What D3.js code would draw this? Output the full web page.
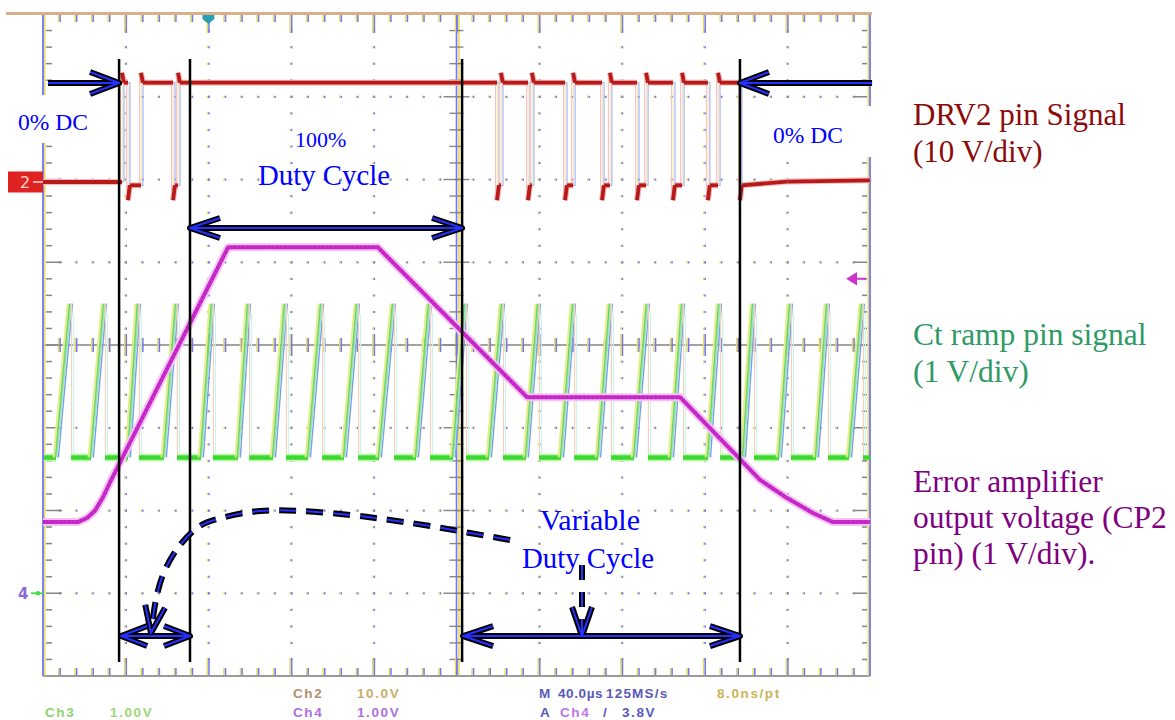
<!DOCTYPE html>
<html><head><meta charset="utf-8">
<script src="https://cdn.jsdelivr.net/npm/d3@7"></script>
<style>body{margin:0;background:#fff;overflow:hidden}svg{display:block}</style>
</head><body>
<script>
// ================= DATA =================
// horizontal axis: time in µs (40 µs/div, 10 div); vertical axis: divisions (8 div)
const timeDomain = [0, 400];
const divDomain = [-4, 4];
const majorTimes = [0, 40, 80, 120, 160, 200, 240, 280, 320, 360, 400];
const majorDivs = [-4, -3, -2, -1, 0, 1, 2, 3, 4];
const triggerTime = 80;

// Ch2 – DRV2 pin (10 V/div), ground marker at +1.97 div
const ch2Offset = 1.97, ch2VoltsPerDiv = 10;
const ch2High = 12, ch2Low = 0, ch2PulseLow = -0.4, ch2Overshoot = 13.2, ch2Undershoot = -2.2;
const ch2Rise = [38.2, 47.4, 65.3, 221.5, 236.5, 256.4, 274.2, 291.7, 309.1, 326.5];
const ch2Fall = [41.1, 62.9, 219.6, 234.6, 252.5, 270.4, 287.3, 304.7, 321.6, 337.1];
const ch2TailTime = [360, 400];
const ch2TailVolt = [0.05, 0.2];

// Ch3 – Ct ramp (1 V/div), ground at -3 div
const ch3Offset = -3, ch3VoltsPerDiv = 1;
const ch3Valley = 1.64, ch3Peak = 3.50;
const ch3RampStart = [6.3, 23.2, 41.1, 58.5, 76.4, 94.3, 111.3, 128.2, 145.6, 162.5, 180.4, 198.3, 215.7, 233.6, 250.6, 268.5, 285.9, 303.8, 321.7, 338.6, 356.0, 373.9, 389.9];
const ch3RampPeak  = [13.1, 29.5, 45.9, 64.3, 81.7, 99.2, 117.0, 134.5, 151.9, 169.3, 186.7, 204.1, 222.0, 239.4, 256.4, 274.2, 292.1, 309.1, 327.0, 343.4, 361.3, 379.2, 396.1];

// Ch4 – error amplifier output (1 V/div), ground at -3 div, trigger 3.8 V
const ch4Offset = -3, ch4VoltsPerDiv = 1, ch4Trigger = 3.8;
const ch4Time = [0, 16.9, 21.3, 25.2, 29.0, 32.4, 89.5, 162.0, 234.1, 308.1, 346.8, 359.9, 372.4, 382.1, 400];
const ch4Volt = [0.86, 0.86, 0.91, 1.00, 1.16, 1.34, 4.18, 4.18, 2.37, 2.37, 1.37, 1.15, 0.97, 0.86, 0.86];

// annotations (time µs, div)
const markerTimes = [36.8, 71.1, 202.7, 337.1];
const markerTop = 3.456, markerBottom = -3.83;
const arrowTopLevel = 3.166, arrowMidLevel = 1.414, arrowLowLevel = -3.517;
const curveTime = [225.9, 206.5, 187.2, 167.8, 148.5, 124.3, 105.0, 88.0, 75.9, 66.3, 59.0, 55.1, 52.2];
const curveDiv  = [-2.356, -2.272, -2.187, -2.115, -2.054, -2.006, -2.006, -2.079, -2.187, -2.417, -2.719, -3.021, -3.480];
const pointerTime = 260.7, pointerFrom = -2.659;

// text
const legendRed = ["DRV2 pin Signal", "(10 V/div)"];
const legendGreen = ["Ct ramp pin signal", "(1 V/div)"];
const legendPurple = ["Error amplifier", "output voltage (CP2", "pin) (1 V/div)."];

// ================= DRAW =================
const svg = d3.select("body").append("svg").attr("width", 1175).attr("height", 720);
svg.append("rect").attr("width", 1175).attr("height", 720).attr("fill", "#fff");

const x = d3.scaleLinear().domain(timeDomain).range([43, 870]);
const y = d3.scaleLinear().domain(divDomain).range([676, 14]);
const y2 = v => y(ch2Offset + v / ch2VoltsPerDiv);
const y3 = v => y(ch3Offset + v / ch3VoltsPerDiv);
const y4 = v => y(ch4Offset + v / ch4VoltsPerDiv);

const minorTimes = d3.range(0, 400.01, 8);
const minorDivs = d3.range(-4, 4.001, 0.2);
const BLUE = "#7474f2", YEL = "#e6dc5a", GRAY = "#858585";

const grid = svg.append("g");
// dotted graticule
majorTimes.filter(t => t !== 0 && t !== 200 && t !== 400).forEach(t => {
  minorDivs.slice(1, -1).forEach(d => {
    grid.append("rect").attr("x", x(t) - 1.6).attr("y", y(d) - 1).attr("width", 1.4).attr("height", 2.2).attr("fill", YEL);
    grid.append("rect").attr("x", x(t) - 0.2).attr("y", y(d) - 1).attr("width", 1.5).attr("height", 2.2).attr("fill", BLUE);
  });
});
majorDivs.filter(d => d !== -4 && d !== 0 && d !== 4).forEach(d => {
  minorTimes.slice(1, -1).forEach(t => {
    grid.append("rect").attr("x", x(t) - 1.6).attr("y", y(d) - 1).attr("width", 1.4).attr("height", 2.2).attr("fill", YEL);
    grid.append("rect").attr("x", x(t) - 0.2).attr("y", y(d) - 1).attr("width", 1.5).attr("height", 2.2).attr("fill", BLUE);
  });
});
// center cross
grid.append("line").attr("x1", x(0)).attr("x2", x(400)).attr("y1", y(0)).attr("y2", y(0)).attr("stroke", GRAY).attr("stroke-width", 1.6);
minorTimes.slice(1, -1).forEach(t => {
  const major = majorTimes.includes(t);
  const h = major ? 11 : 7;
  grid.append("line").attr("x1", x(t) - 1).attr("x2", x(t) - 1).attr("y1", y(0) - h).attr("y2", y(0) + h).attr("stroke", YEL).attr("stroke-width", 1.5);
  grid.append("line").attr("x1", x(t) + 0.6).attr("x2", x(t) + 0.6).attr("y1", y(0) - h).attr("y2", y(0) + h).attr("stroke", BLUE).attr("stroke-width", 1.5);
});
grid.append("line").attr("x1", x(200)).attr("x2", x(200)).attr("y1", y(4)).attr("y2", y(-4)).attr("stroke", BLUE).attr("stroke-width", 1.6);
grid.append("line").attr("x1", x(200) + 2.4).attr("x2", x(200) + 2.4).attr("y1", y(4)).attr("y2", y(-4)).attr("stroke", YEL).attr("stroke-width", 1.6);
minorDivs.slice(1, -1).forEach(d => {
  const major = majorDivs.includes(Math.round(d * 10) / 10);
  const w = major ? 13 : 7;
  grid.append("line").attr("x1", x(200) - w).attr("x2", x(200) + w).attr("y1", y(d)).attr("y2", y(d)).attr("stroke", GRAY).attr("stroke-width", 1.4);
});
// borders
grid.append("line").attr("x1", 6).attr("x2", 872).attr("y1", 13.5).attr("y2", 13.5).attr("stroke", "#d8b08c").attr("stroke-width", 3);
grid.append("line").attr("x1", x(0)).attr("x2", x(400)).attr("y1", y(-4)).attr("y2", y(-4)).attr("stroke", "#9a9a9a").attr("stroke-width", 2);
[[x(0), BLUE, YEL, 1.8], [x(400), BLUE, YEL, -1.8]].forEach(([bx, c1, c2, off]) => {
  grid.append("line").attr("x1", bx).attr("x2", bx).attr("y1", 15).attr("y2", y(-4)).attr("stroke", c1).attr("stroke-width", 1.8);
  grid.append("line").attr("x1", bx + off).attr("x2", bx + off).attr("y1", 15).attr("y2", y(-4)).attr("stroke", c2).attr("stroke-width", 1.4);
});
minorTimes.slice(1, -1).forEach(t => {
  const major = majorTimes.includes(t);
  [[15, major ? 33 : 22], [y(-4) - (major ? 18 : 8), y(-4) - 1]].forEach(([a, b]) => {
    grid.append("line").attr("x1", x(t) - 1).attr("x2", x(t) - 1).attr("y1", a).attr("y2", b).attr("stroke", YEL).attr("stroke-width", 1.5);
    grid.append("line").attr("x1", x(t) + 0.6).attr("x2", x(t) + 0.6).attr("y1", a).attr("y2", b).attr("stroke", BLUE).attr("stroke-width", 1.5);
  });
});
minorDivs.slice(1, -1).forEach(d => {
  const major = majorDivs.includes(Math.round(d * 10) / 10);
  grid.append("line").attr("x1", x(0) + 3).attr("x2", x(0) + (major ? 19 : 9)).attr("y1", y(d)).attr("y2", y(d)).attr("stroke", GRAY).attr("stroke-width", 1.5);
  grid.append("line").attr("x1", x(400) - 3).attr("x2", x(400) - (major ? 16 : 8)).attr("y1", y(d)).attr("y2", y(d)).attr("stroke", GRAY).attr("stroke-width", 1.5);
});
// white text boxes that cover the graticule
svg.append("rect").attr("x", 0).attr("y", 95).attr("width", 111).attr("height", 48).attr("fill", "#fff");
svg.append("rect").attr("x", 748).attr("y", 106).attr("width", 128).attr("height", 51).attr("fill", "#fff");

// channel markers
const mk = svg.append("g");
mk.append("rect").attr("x", 8).attr("y", y2(0) - 10.5).attr("width", 35).attr("height", 21).attr("fill", "#df2222");
mk.append("text").attr("x", 20).attr("y", y2(0) + 6).text("2").attr("fill", "#ffd6c8").attr("font-family", "DejaVu Sans").attr("font-size", 16);
mk.append("line").attr("x1", 33).attr("x2", 43).attr("y1", y2(0)).attr("y2", y2(0)).attr("stroke", "#ffe0d0").attr("stroke-width", 1.5);
mk.append("text").attr("x", 18).attr("y", y4(0) + 6).text("4").attr("fill", "#8a6ad8").attr("font-family", "DejaVu Sans").attr("font-weight", "bold").attr("font-size", 15);
mk.append("line").attr("x1", 31).attr("x2", 43).attr("y1", y4(0)).attr("y2", y4(0)).attr("stroke", "#44dd44").attr("stroke-width", 1.8);
mk.append("circle").attr("cx", 38).attr("cy", y4(0)).attr("r", 2.2).attr("fill", "#44dd44");
mk.append("path").attr("d", `M${x(400) - 22},${y4(ch4Trigger)} l8,-5 v10 z M${x(400) - 16},${y4(ch4Trigger)} H${x(400) - 4}`)
  .attr("fill", "#cc33cc").attr("stroke", "#cc33cc").attr("stroke-width", 2);
mk.append("path").attr("d", `M${x(triggerTime) - 6},15 h12 v4 l-6,5 l-6,-5 z`).attr("fill", "#2aa0b4");

// ---- Ch3 green ramp ----
const g3 = svg.append("g");
const line = d3.line().x(p => x(p[0])).y(p => p[1]);
let prev = 0;
ch3RampStart.forEach((s, i) => {
  const pk = ch3RampPeak[i];
  g3.append("path").attr("d", line([[prev + 0.5, y3(ch3Valley)], [s, y3(ch3Valley)]])).attr("stroke", "#c4f6b6").attr("stroke-width", 8).attr("fill", "none");
  g3.append("path").attr("d", line([[prev + 0.5, y3(ch3Valley)], [s, y3(ch3Valley)]])).attr("stroke", "#3bd82e").attr("stroke-width", 4.5).attr("fill", "none");
  // ramp (persistence jitter shown as several sweeps)
  [[-2.4, "#e6ee88", 2], [2.4, "#7c9cf0", 1.4], [0.8, "#9fe6b8", 1.6], [-0.6, "#6fd46a", 1.6]].forEach(([dx, c, w]) => {
    g3.append("line").attr("x1", x(s) + dx).attr("y1", y3(ch3Valley)).attr("x2", x(pk) + dx).attr("y2", y3(ch3Peak)).attr("stroke", c).attr("stroke-width", w);
  });
  // discharge edge
  g3.append("line").attr("x1", x(pk) + 1.5).attr("x2", x(pk) + 1.5).attr("y1", y3(ch3Peak)).attr("y2", y3(ch3Valley)).attr("stroke", "#f7d2bb").attr("stroke-width", 1.2);
  g3.append("line").attr("x1", x(pk) + 3.5).attr("x2", x(pk) + 3.5).attr("y1", y3(ch3Peak) + 10).attr("y2", y3(ch3Valley)).attr("stroke", "#c8f4f2").attr("stroke-width", 1.1);
  prev = pk;
});
g3.append("path").attr("d", line([[prev + 0.5, y3(ch3Valley)], [400, y3(ch3Valley)]])).attr("stroke", "#3bd82e").attr("stroke-width", 4.5).attr("fill", "none");

// ---- Ch4 magenta ----
const ch4Pts = ch4Time.map((t, i) => [t, y4(ch4Volt[i])]);
svg.append("path").attr("d", line(ch4Pts)).attr("fill", "none").attr("stroke", "#f3c4f3").attr("stroke-width", 8).attr("stroke-linejoin", "round");
svg.append("path").attr("d", line(ch4Pts)).attr("fill", "none").attr("stroke", "#cc2acc").attr("stroke-width", 4).attr("stroke-linejoin", "round");
svg.append("path").attr("d", line(ch4Pts)).attr("fill", "none").attr("stroke", "#8e1a9e").attr("stroke-width", 4).attr("stroke-dasharray", "1.2,3").attr("opacity", 0.3);

// ---- Ch2 red ----
const events = ch2Rise.map(t => ({t, up: true})).concat(ch2Fall.map(t => ({t, up: false}))).sort((a, b) => a.t - b.t);
const red = [[0, ch2Low]];
events.forEach((e, i) => {
  const lowBefore = i === 0 ? ch2Low : ch2PulseLow;
  if (e.up) red.push([e.t, lowBefore], [e.t, ch2Overshoot], [e.t + 0.9, ch2High]);
  else red.push([e.t, ch2High], [e.t, ch2Undershoot], [e.t + 0.9, ch2PulseLow]);
});
ch2TailTime.forEach((t, i) => red.push([t, ch2TailVolt[i]]));
const redPx = red.map(p => [p[0], y2(p[1])]);
const lineOff = dx => d3.line().x(p => x(p[0]) + dx).y(p => p[1]);
svg.append("path").attr("d", lineOff(2)(redPx)).attr("fill", "none").attr("stroke", "#a9b4f6").attr("stroke-width", 1.2);
svg.append("path").attr("d", lineOff(-1.4)(redPx)).attr("fill", "none").attr("stroke", "#f6c2c2").attr("stroke-width", 1.2);
svg.append("path").attr("d", lineOff(0.3)(redPx)).attr("fill", "none").attr("stroke", "#f0e6a0").attr("stroke-width", 0.8);
for (let i = 1; i < redPx.length; i++) {
  if (redPx[i][0] === redPx[i - 1][0]) continue;
  svg.append("path").attr("d", line([redPx[i - 1], redPx[i]])).attr("stroke", "#f2bcbc").attr("stroke-width", 6).attr("fill", "none");
}
for (let i = 1; i < redPx.length; i++) {
  if (redPx[i][0] === redPx[i - 1][0]) continue;
  svg.append("path").attr("d", line([redPx[i - 1], redPx[i]])).attr("stroke", "#b81a1a").attr("stroke-width", 3.8).attr("fill", "none");
}

// ---- annotation lines ----
markerTimes.forEach(t => {
  svg.append("line").attr("x1", x(t)).attr("x2", x(t)).attr("y1", y(markerTop)).attr("y2", y(markerBottom)).attr("stroke", "#000").attr("stroke-width", 2.5);
});

// ---- arrows ----
const blackLayer = svg.append("g"), blueLayer = svg.append("g");
function stroke(d, dash) {
  blackLayer.append("path").attr("d", d).attr("fill", "none").attr("stroke", "#000").attr("stroke-width", 6).attr("stroke-linejoin", "round").attr("stroke-dasharray", dash || null);
  blueLayer.append("path").attr("d", d).attr("fill", "none").attr("stroke", "#2530ff").attr("stroke-width", 2).attr("stroke-linejoin", "round").attr("stroke-dasharray", dash || null);
}
function head(tx, ty, fx, fy, len, half) {
  const a = Math.atan2(ty - fy, tx - fx);
  const bx = tx - len * Math.cos(a), by = ty - len * Math.sin(a);
  const nx = -Math.sin(a) * half, ny = Math.cos(a) * half;
  stroke(`M${bx + nx},${by + ny} L${tx},${ty} L${bx - nx},${by - ny}`);
}
function hArrow(t0, t1, lvl, both, len, half) {
  const X0 = x(t0), X1 = x(t1), Y = y(lvl);
  stroke(`M${X0},${Y} H${X1}`);
  head(X1, Y, X0, Y, len, half);
  if (both) head(X0, Y, X1, Y, len, half);
}
hArrow(2.4, markerTimes[0], arrowTopLevel, false, 29, 11);
hArrow(401, markerTimes[3], arrowTopLevel, false, 29, 11);
hArrow(markerTimes[1], markerTimes[2], arrowMidLevel, true, 30, 10);
hArrow(markerTimes[0] + 1, markerTimes[1], arrowLowLevel, true, 26, 10);
hArrow(markerTimes[2] + 0.5, markerTimes[3], arrowLowLevel, true, 30, 10);
// dashed curved arrow
const cPts = curveTime.map((t, i) => [x(t), y(curveDiv[i])]);
stroke(d3.line().curve(d3.curveCatmullRom)(cPts), "17,10");
const n = cPts.length;
head(cPts[n - 1][0], cPts[n - 1][1], cPts[n - 2][0], cPts[n - 2][1], 27, 10);
// vertical dashed pointer
stroke(`M${x(pointerTime)},${y(pointerFrom)} V${y(arrowLowLevel)}`, "15,12");
head(x(pointerTime), y(arrowLowLevel), x(pointerTime), y(pointerFrom), 29, 10);

// ---- texts ----
function txt(s, X, Y, size, color, family, extra) {
  const t = svg.append("text").attr("x", X).attr("y", Y).text(s).attr("fill", color)
    .attr("font-family", family || "'Liberation Serif', 'Times New Roman', serif").attr("font-size", size);
  if (extra) extra(t);
  return t;
}
const BL = "#0000ff";
txt("0% DC", 18, 130, 23.5, BL);
txt("0% DC", 773, 143, 23.5, BL);
txt("100%", 295, 147, 22, BL);
txt("Duty Cycle", 258, 185, 28.8, BL);
txt("Variable", 540, 530, 30, BL);
txt("Duty Cycle", 522, 568, 28.8, BL);

legendRed.forEach((s, i) => txt(s, 913, 125 + i * 37, 31, "#8b0a0a"));
legendGreen.forEach((s, i) => txt(s, 913, 345 + i * 37, 31.5, "#2e9a66"));
legendPurple.forEach((s, i) => txt(s, 913, 492 + i * 36, 31.5, "#800080"));

// scope readouts
const SF = "'Liberation Sans', Arial, sans-serif";
const ro = (s, X, Y, c, ls) => txt(s, X, Y, 13.5, c, SF, t => t.attr("font-weight", "bold").attr("letter-spacing", ls == null ? 1.6 : ls).attr("opacity", 0.85));
ro("Ch3", 45, 717, "#78cc55"); ro("1.00V", 110, 717, "#90d060");
ro("Ch2", 293, 698, "#a47c58"); ro("10.0V", 357, 698, "#c0a050");
ro("Ch4", 293, 717, "#a058d8"); ro("1.00V", 357, 717, "#a058d8");
ro("M", 539, 698, "#3c3cb0"); ro("40.0µs", 558, 698, "#3c3cb0", 0.6); ro("125MS/s", 606, 698, "#3c3cb0", 1.2);
ro("8.0ns/pt", 717, 698, "#c0a838");
ro("A", 540, 717, "#3c3cb0"); ro("Ch4", 560, 717, "#b060e0"); ro("/", 603, 717, "#3c3cb0"); ro("3.8V", 622, 717, "#3c3cb0");
</script>
</body></html>
